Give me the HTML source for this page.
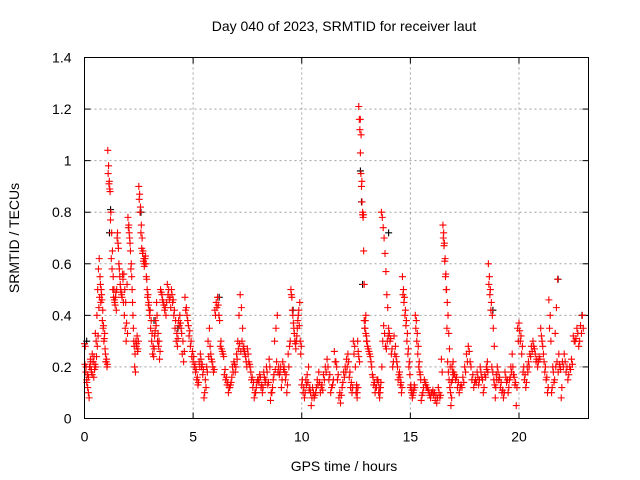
<!DOCTYPE html>
<html><head><meta charset="utf-8"><style>
body{margin:0;background:#fff;}
svg{display:block;font-family:"Liberation Sans",sans-serif;}
</style></head><body>
<svg id="chart" width="640" height="480" viewBox="0 0 640 480" xmlns="http://www.w3.org/2000/svg">
<rect width="640" height="480" fill="#fff"/>
<text x="344" y="31" font-size="14" text-anchor="middle">Day 040 of 2023, SRMTID for receiver laut</text>
<text x="344" y="471" font-size="14" text-anchor="middle">GPS time / hours</text>
<text transform="translate(19,238) rotate(-90)" font-size="14" text-anchor="middle">SRMTID / TECUs</text>
<g id="grid"></g>
<g id="ticks"></g>
<g id="black"></g>
<g id="red"></g>
<rect x="84.5" y="57.5" width="504" height="361" fill="none" stroke="#000" stroke-width="1"/>
</svg>
<script>
const xTicks=[0,5,10,15,20];
const yTicks=[0,0.2,0.4,0.6,0.8,1,1.2,1.4];
const yTickLabels=["0","0.2","0.4","0.6","0.8","1","1.2","1.4"];
const segStart=[0,0.5,1,1.5,2,2.5,3,3.5,4,4.5,5,5.5,6,6.5,7,7.5,8,8.5,9,9.5,10,10.5,11,11.5,12,12.5,13,13.5,14,14.5,15,15.5,16,16.5,17,17.5,18,18.5,19,19.5,20,20.5,21,21.5,22,22.5];
const redValues=[
[0.29,0.28,0.2,0.15,0.17,0.1,0.08,0.2,0.22,0.18,0.25,0.22,0.16,0.19],
[0.33,0.3,0.4,0.5,0.58,0.62,0.55,0.45,0.48,0.38,0.35,0.3,0.33,0.25],
[0.22,0.2,1.04,0.98,0.92,0.88,0.8,0.72,0.65,0.55,0.5,0.45,0.47,0.42],
[0.7,0.68,0.6,0.55,0.5,0.48,0.56,0.45,0.4,0.35,0.3,0.52],
[0.78,0.75,0.7,0.65,0.6,0.5,0.4,0.3,0.2,0.18,0.28,0.32,0.27],
[0.9,0.87,0.82,0.75,0.7,0.65,0.62,0.6,0.63,0.55,0.5,0.48,0.45],
[0.4,0.35,0.3,0.25,0.24,0.32,0.38,0.45,0.3,0.28,0.23],
[0.5,0.48,0.45,0.42,0.4,0.52,0.5,0.47],
[0.5,0.45,0.4,0.35,0.3,0.28,0.38,0.4,0.35],
[0.25,0.22,0.47,0.43,0.38,0.32,0.28,0.24],
[0.22,0.2,0.18,0.15,0.13,0.22,0.25,0.2,0.17],
[0.08,0.15,0.2,0.3,0.35,0.25,0.22,0.18],
[0.42,0.45,0.47,0.4,0.28,0.27,0.25,0.17],
[0.15,0.13,0.1,0.12,0.14,0.2,0.22,0.18],
[0.25,0.3,0.4,0.48,0.43,0.35,0.28,0.25,0.22],
[0.27,0.22,0.2,0.15,0.12,0.08,0.1,0.14],
[0.15,0.17,0.12,0.1,0.18,0.14,0.2,0.13],
[0.23,0.07,0.1,0.15,0.3,0.35,0.4,0.2],
[0.18,0.12,0.22,0.2,0.15,0.1,0.25,0.28],
[0.5,0.47,0.4,0.35,0.3,0.27,0.32,0.38,0.42,0.45,0.25],
[0.13,0.1,0.08,0.15,0.17,0.2,0.12,0.05],
[0.12,0.08,0.1,0.15,0.18,0.1,0.13],
[0.17,0.2,0.23,0.15,0.1,0.13],
[0.26,0.22,0.15,0.08,0.06,0.12,0.18],
[0.2,0.23,0.25,0.16,0.12,0.1,0.3,0.28],
[0.1,0.13,0.08,0.3,0.26,1.21,1.16,1.12,1.03,0.95,0.9,0.84,0.79,0.78,0.65,0.52,0.35,0.38,0.4,0.32],
[0.3,0.27,0.25,0.22,0.17,0.13,0.1,0.12],
[0.15,0.1,0.08,0.12,0.8,0.78,0.74,0.7,0.64,0.57,0.48,0.43],
[0.35,0.3,0.25,0.2,0.32,0.28,0.22,0.15],
[0.18,0.13,0.1,0.55,0.5,0.47,0.42,0.38,0.33,0.27,0.22],
[0.12,0.1,0.08,0.1,0.13,0.4,0.38,0.33,0.28,0.22,0.17],
[0.07,0.1,0.15,0.13,0.12,0.1,0.08],
[0.1,0.09,0.07,0.06,0.12,0.08,0.23],
[0.75,0.72,0.68,0.62,0.56,0.5,0.45,0.4,0.33,0.27,0.2,0.05,0.08,0.15,0.22],
[0.18,0.15,0.12,0.1,0.13,0.16],
[0.2,0.25,0.28,0.22,0.15,0.12],
[0.15,0.18,0.13,0.2,0.16,0.1,0.17],
[0.2,0.22,0.6,0.55,0.5,0.45,0.4,0.35,0.28,0.08,0.17],
[0.2,0.15,0.12,0.1,0.08,0.18,0.14],
[0.1,0.15,0.2,0.25,0.17,0.13,0.05,0.35],
[0.37,0.3,0.25,0.18,0.15,0.12,0.2,0.22],
[0.25,0.28,0.3,0.27,0.22,0.2,0.24],
[0.35,0.3,0.25,0.18,0.15,0.1,0.46,0.4],
[0.1,0.2,0.14,0.33,0.43,0.54,0.25,0.2,0.08],
[0.22,0.25,0.18,0.15,0.2,0.23],
[0.32,0.3,0.35,0.28,0.36,0.4]
];
const redExtra=[
[0.21,0.18,0.14,0.12,0.16,0.2,0.23,0.19,0.17,0.22,0.24,0.21],
[0.2,0.24,0.28,0.32,0.43,0.47,0.52,0.5,0.46,0.42,0.36,0.31,0.27,0.22],
[0.23,0.21,0.95,0.91,0.89,0.77,0.62,0.58,0.5,0.47,0.46,0.44,0.49,0.5],
[0.72,0.66,0.58,0.52,0.49,0.47,0.54,0.56,0.5,0.45,0.37,0.33],
[0.74,0.72,0.68,0.58,0.55,0.45,0.35,0.28,0.25,0.3,0.29,0.26,0.3],
[0.85,0.8,0.72,0.66,0.64,0.61,0.59,0.62,0.6,0.54,0.47,0.44,0.42],
[0.42,0.38,0.33,0.28,0.27,0.34,0.36,0.4,0.33,0.3,0.26],
[0.49,0.46,0.44,0.43,0.45,0.48,0.46,0.43],
[0.48,0.46,0.42,0.38,0.33,0.31,0.36,0.37,0.33],
[0.3,0.26,0.42,0.4,0.36,0.34,0.3,0.26],
[0.24,0.21,0.19,0.16,0.14,0.2,0.23,0.21,0.19],
[0.1,0.12,0.18,0.24,0.28,0.23,0.2,0.19],
[0.4,0.43,0.44,0.38,0.3,0.26,0.24,0.19],
[0.16,0.14,0.12,0.13,0.16,0.18,0.21,0.2],
[0.23,0.27,0.29,0.26,0.3,0.27,0.26,0.24,0.2],
[0.25,0.21,0.18,0.16,0.14,0.1,0.12,0.15],
[0.14,0.16,0.13,0.12,0.16,0.15,0.18,0.14],
[0.2,0.1,0.12,0.17,0.19,0.22,0.18,0.17],
[0.2,0.15,0.19,0.18,0.17,0.13,0.2,0.3],
[0.48,0.42,0.37,0.33,0.29,0.3,0.35,0.4,0.36,0.3,0.28],
[0.15,0.12,0.1,0.13,0.14,0.11,0.1,0.08],
[0.1,0.09,0.12,0.13,0.14,0.12,0.11],
[0.15,0.18,0.2,0.17,0.12,0.15],
[0.22,0.2,0.17,0.1,0.09,0.14,0.16],
[0.18,0.2,0.22,0.18,0.14,0.12,0.25,0.2],
[0.12,0.1,0.12,0.24,0.22,1.16,1.1,0.92,0.8,0.79,0.38,0.35,0.33,0.3],
[0.28,0.26,0.24,0.2,0.16,0.14,0.12,0.15],
[0.14,0.12,0.1,0.14,0.2,0.3,0.36,0.33,0.28,0.27,0.3,0.32],
[0.33,0.31,0.27,0.22,0.25,0.24,0.2,0.17],
[0.16,0.14,0.12,0.48,0.45,0.4,0.36,0.3,0.25,0.2,0.17],
[0.13,0.11,0.09,0.11,0.12,0.35,0.3,0.25,0.2,0.18,0.15],
[0.09,0.12,0.14,0.12,0.11,0.09,0.1],
[0.11,0.1,0.09,0.08,0.1,0.09,0.18],
[0.7,0.67,0.61,0.55,0.5,0.35,0.22,0.18,0.15,0.12,0.1,0.14,0.2,0.18,0.17],
[0.17,0.16,0.14,0.12,0.12,0.14],
[0.18,0.22,0.26,0.2,0.17,0.14],
[0.14,0.16,0.15,0.18,0.15,0.12,0.16],
[0.19,0.18,0.52,0.48,0.42,0.2,0.18,0.15,0.13,0.12,0.15],
[0.18,0.16,0.14,0.11,0.1,0.16,0.15],
[0.12,0.16,0.18,0.2,0.16,0.14,0.12,0.3],
[0.34,0.32,0.28,0.2,0.17,0.14,0.18,0.2],
[0.24,0.26,0.28,0.25,0.23,0.22,0.23],
[0.32,0.28,0.22,0.2,0.16,0.12,0.35,0.3],
[0.12,0.18,0.15,0.2,0.22,0.18,0.21,0.19,0.12],
[0.2,0.22,0.2,0.17,0.19,0.21],
[0.3,0.31,0.33,0.3,0.33,0.35]
];
const blackHours=[1.15,1.2,2.6,6.2,9.6,12.7,12.75,12.8,14.0,18.8,21.8,22.9,0.1,3.2,4.3];
const blackValues=[0.72,0.81,0.8,0.47,0.42,0.96,0.84,0.52,0.72,0.42,0.54,0.4,0.3,0.38,0.35];

const X0=84.5,X1=588.5,Y0=418.5,Y1=57.5,XMAX=23.2,YMAX=1.4;
const sx=h=>X0+h/XMAX*(X1-X0);
const sy=v=>Y0-v/YMAX*(Y0-Y1);
const NS="http://www.w3.org/2000/svg";
function mk(tag,attrs,parent){const e=document.createElementNS(NS,tag);for(const k in attrs)e.setAttribute(k,attrs[k]);parent.appendChild(e);return e;}
const grid=document.getElementById('grid'),ticks=document.getElementById('ticks');
xTicks.forEach(t=>{
  const x=sx(t);
  if(t>0){const g=mk('line',{x1:x,x2:x,y1:Y1,y2:Y0,stroke:'#a0a0a0','stroke-dasharray':'2,3'},grid);
  
  }
  mk('line',{x1:x,x2:x,y1:Y0,y2:Y0-6,stroke:'#000'},ticks);
  mk('line',{x1:x,x2:x,y1:Y1,y2:Y1+6,stroke:'#000'},ticks);
  const l=mk('text',{x:x,y:Y0+23,'font-size':14,'text-anchor':'middle'},ticks);
  l.textContent=t;
  
  
});
yTicks.forEach((t,i)=>{
  const y=sy(t);
  if(t>0&&t<YMAX){const g=mk('line',{x1:X0,x2:X1,y1:y,y2:y,stroke:'#a0a0a0','stroke-dasharray':'2,3'},grid);
  
  }
  mk('line',{x1:X0,x2:X0+6,y1:y,y2:y,stroke:'#000'},ticks);
  mk('line',{x1:X1,x2:X1-6,y1:y,y2:y,stroke:'#000'},ticks);
  const l=mk('text',{x:X0-13,y:y+5,'font-size':14,'text-anchor':'end'},ticks);
  l.textContent=yTickLabels[i];
  
  
});
function plus(parent,h,v,color,name){
  const x=sx(h),y=sy(v);
  const p=mk('path',{d:`M${x-3.5} ${y}H${x+3.5}M${x} ${y-3.5}V${y+3.5}`,stroke:color,'stroke-width':1.1,fill:'none'},parent);
  
  
}
const bg=document.getElementById('black');
blackHours.forEach((h,i)=>plus(bg,h,blackValues[i],'#000','black-point'));
const rg=document.getElementById('red');
segStart.forEach((s,i)=>{
  const vals=redValues[i];
  vals.forEach((v,j)=>plus(rg,s+0.5*j/vals.length,v,'#ff0000','red-point'));
  const ex=redExtra[i];
  ex.forEach((v,j)=>plus(rg,s+0.5*(j+0.5)/ex.length,v,'#ff0000','red-point'));
});
</script>
</body></html>
